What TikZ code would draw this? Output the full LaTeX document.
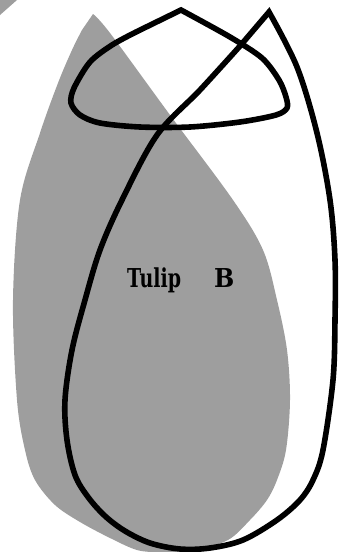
\documentclass[tikz,border=0pt]{standalone}
\usepackage{graphicx}
\usepackage{fontspec}
\newfontfamily\tulipfont{DejaVu Serif}
\usetikzlibrary{calc}
\tikzset{
  halftone/.style={fill=black!38, draw=none},
  petal/.style={draw=black, line width=5.6pt, line join=miter},
}
\begin{document}
\begin{tikzpicture}[x=1pt,y=-1pt]
  \useasboundingbox (0,0) rectangle (341,552);
  % speck in the corner
  \fill[black!38] (0,0) -- (17,0) -- (0,15) -- cycle;
  % shaded tulip
  \path[halftone] plot[smooth, tension=0.55] coordinates {(93,14) (110,33) (170,115) (233,200) (263,250) (277,300) (287,350) (290,400) (286,450) (277,480) (267,500) (250,520) (228,540) (195,550) (160,552) (137,550) (110,538) (80,522) (55,505) (35,480) (25,450) (17,400) (13,300) (20,200) (40,133) (58,83) (72,50) (82,30)} -- cycle;
  % cap
  \draw[petal] plot[smooth, tension=0.5] coordinates {(181,10) (230,37) (262,58) (279,80) (286,97) (287,108) (276,115) (240,122) (190,127) (140,127) (100,123) (80,115) (71,103) (74,88) (90,62) (112,45) (136,32)} -- cycle;
  % tall tulip
  \draw[petal] plot[smooth, tension=0.55] coordinates {(269,12) (297,67) (317,133) (330,200) (335,260) (335,320) (333,380) (323,450) (313,480) (300,500) (277,520) (243,540) (210,548) (180,549) (150,543) (125,531) (105,516) (88,497) (75,475) (67,440) (65,400) (72,350) (85,300) (100,250) (122,200) (157,135) (200,90) (240,46)} -- cycle;
  \node[anchor=base west, inner sep=0pt, font=\tulipfont\fontsize{26}{26}\selectfont\bfseries] (tulipB) at (127,287) {\scalebox{0.73}[1]{Tulip}\hspace{33pt}\scalebox{0.92}[1]{B}};
\end{tikzpicture}
\end{document}
